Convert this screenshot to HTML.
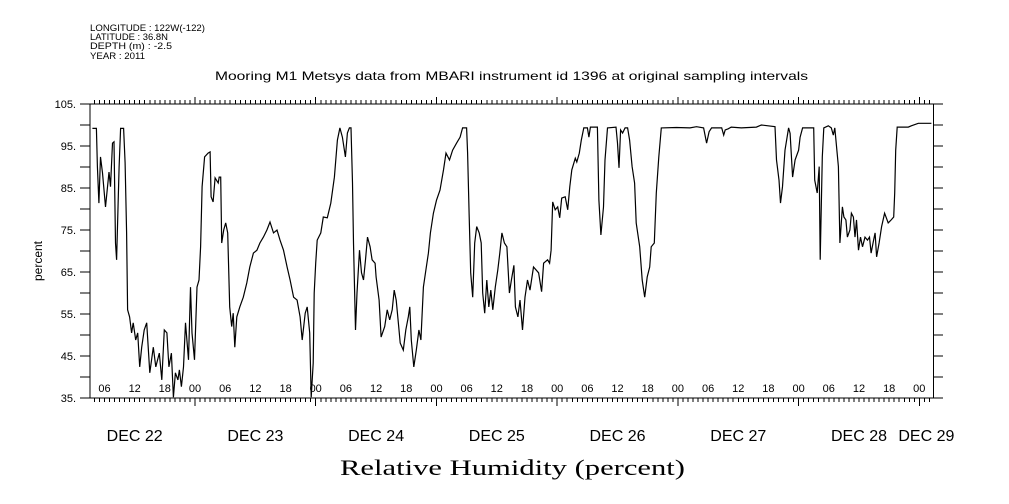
<!DOCTYPE html>
<html><head><meta charset="utf-8"><style>
html,body{margin:0;padding:0;background:#fff;}
svg{display:block;font-family:"Liberation Sans",sans-serif;}
</style></head><body>
<svg id="chart" width="1009" height="504" viewBox="0 0 1009 504">
<rect width="1009" height="504" fill="#fff"/>
<g font-size="9" fill="#000">
<text x="90" y="31" textLength="115" lengthAdjust="spacingAndGlyphs">LONGITUDE : 122W(-122)</text>
<text x="90" y="40" textLength="78" lengthAdjust="spacingAndGlyphs">LATITUDE : 36.8N</text>
<text x="90" y="49" textLength="82" lengthAdjust="spacingAndGlyphs">DEPTH (m) : -2.5</text>
<text x="90" y="59" textLength="55" lengthAdjust="spacingAndGlyphs">YEAR : 2011</text>
</g>
<text x="215" y="80" font-size="12" textLength="593" lengthAdjust="spacingAndGlyphs">Mooring M1 Metsys data from MBARI instrument id 1396 at original sampling intervals</text>
<text transform="translate(42,261) rotate(-90)" text-anchor="middle" font-size="12">percent</text>
<text x="340" y="475" font-family="'Liberation Serif',serif" font-size="22" textLength="345" lengthAdjust="spacingAndGlyphs">Relative Humidity (percent)</text>
<g id="axes"></g>
<g id="plot"></g>
</svg>
<script>
const hours=[3.6,4.4,4.6,4.9,5.2,5.6,6.2,6.9,7.2,7.6,7.9,8.2,8.4,8.9,9.2,9.8,10.1,10.4,10.6,11,11.4,11.7,12.2,12.6,13,13.4,13.9,14.4,15,15.7,16.2,16.9,17.4,17.9,18.4,18.8,19.3,19.7,20.1,20.6,20.9,21.3,21.7,22.1,22.7,23.1,23.4,23.9,24.4,24.8,25.1,25.4,25.9,26.6,27,27.2,27.6,28,28.6,28.8,29.1,29.3,29.7,30.1,30.5,30.9,31.3,31.6,31.9,32.3,32.9,33.6,34.3,34.9,35.6,36.3,36.9,37.6,38.3,38.9,39.6,40.3,40.9,41.6,42.3,42.9,43.6,44.3,44.9,45.3,45.9,46.3,46.8,47.1,47.5,47.7,48,48.3,49,49.5,50.3,51,51.7,52.3,52.8,53.3,53.9,54.3,54.7,55,55.3,55.5,55.9,56.2,56.7,57.1,57.5,57.9,58.3,58.8,59.2,59.8,60.0,60.6,61.0,61.7,62.2,62.7,63.2,63.6,64.0,64.5,64.8,65.4,65.9,66.4,66.7,67.0,67.5,68.0,68.5,68.9,69.4,69.9,70.4,70.8,71.4,72.0,72.7,73.4,73.9,74.6,75.2,76.0,76.7,77.2,78.0,78.2,78.5,78.8,79.2,79.6,80.0,80.5,80.9,81.2,81.6,82.0,82.4,82.8,83.2,83.7,84.2,84.6,85.0,85.5,86.0,86.5,86.9,87.4,87.7,88.2,88.6,89.1,89.6,90.1,90.6,91.3,92.3,92.9,93.3,94.1,94.5,94.8,95.1,95.6,96.1,96.5,96.9,97.6,98.1,98.5,98.9,99.6,99.9,100.4,100.8,101.3,102.0,102.3,102.6,104.0,104.3,104.7,105.2,105.5,106.0,107.7,108.0,108.3,108.6,109.0,109.5,110.0,110.4,110.9,111.4,111.7,112.4,112.9,113.4,113.9,114.4,114.7,115.3,115.7,116.2,116.7,119.7,122.4,123.7,125.1,125.7,126.2,126.7,128.7,129.1,129.4,130.0,130.6,132.6,135.6,136.6,139.3,139.6,140.1,140.4,140.8,141.3,142.0,142.3,142.8,143.3,144.0,144.3,144.8,147.0,147.2,147.7,148.1,148.3,148.7,149.0,149.9,150.5,150.9,151.2,151.9,152.2,152.7,153.0,153.4,153.7,154.2,154.5,154.9,155.2,155.5,155.9,156.3,156.7,157.2,157.7,158.1,158.4,158.9,159.2,159.5,160.0,160.5,161.1,161.8,162.4,162.9,163.1,163.3,163.6,165.8,166.4,167.8,170.4];
const humidity=[99.2,99.2,90.1,81.4,92.4,88.6,80.5,88.8,85.3,95.7,96,71.9,67.9,90,99.2,99.2,91,74.3,56,54.3,50.5,52.9,48.8,50.5,42.4,47.1,51.2,52.9,41,47.1,42.4,45.7,39.3,51.2,50.5,42.4,45.7,35.2,41,39.3,41.7,37.7,42.4,52.9,44.1,61.4,50.5,44.1,61.4,63.1,71,85.3,92.4,93.3,93.6,82.9,81.7,87.4,86.2,87.6,87.6,71.9,75,76.7,74.3,56.7,52,55.2,47.1,54.3,56.7,59,62.4,66.2,69.5,70.2,71.9,73.3,75,76.9,74.3,75,72.6,70.2,66.2,63.1,59,58.3,54.3,48.8,55.2,56.7,50.5,35.2,43.3,60,67.1,72.6,74.3,78.1,77.9,81.4,87.6,96.4,99.3,97.1,92.4,98.1,99.3,99.3,86.2,71.9,51.2,60,70.2,64.8,63.1,67.9,73.3,71,67.9,67.1,63.8,58.3,49.5,52,56,53.6,56,60.7,58.3,52,48.1,46.4,51.2,54.3,56.7,48.8,42.4,46.4,51.2,48.8,61.4,65.5,69.5,74.3,79,82.1,84.5,89.3,93.3,91.7,94,95.7,97.1,99.3,99.3,93.3,78.1,64.8,59,71.9,75.8,74.3,71.9,60,55.2,63.1,56.7,60.7,56,61.4,65.5,69.5,74.3,71.9,71,60,63.1,66.6,56.7,54.3,58.3,51.2,59,63.1,60.7,66.2,64.8,60.3,67.1,67.9,67.1,70.2,81.7,79.8,80.5,77.9,82.6,82.9,79.8,85.3,89.3,92.1,91.2,93.3,96.4,99.3,99.3,97.1,99.5,99.5,82.1,73.8,80.5,91.7,99.3,99.5,95.7,89.8,98.8,98.1,99.3,99.3,96.4,90.1,86.2,76.7,71,63.1,59,63.8,66.2,71,71.9,83.8,92.4,99.3,99.4,99.3,99.6,99.3,95.7,98.4,99.3,99.3,97.6,98.8,99.1,99.5,99.3,99.5,100,99.6,91.7,86.9,81.4,85.3,94,99.3,98,87.6,91.7,94,97.1,99.3,99.3,86.9,83.8,90.1,67.9,92.4,99.3,99.8,99.3,97.6,99.3,90.1,71.9,80.5,78.1,77.4,73.3,75,79,78.1,73.3,77.4,70.2,73.3,71,73.3,72.6,73.3,69.5,72.6,74.3,68.6,71.9,75.8,79,76.7,77.4,78.1,83.8,94,99.5,99.5,99.8,100.4,100.4];
const yTickValues=[35,40,45,50,55,60,65,70,75,80,85,90,95,100,105];
const yTickLabels=["35.","45.","55.","65.","75.","85.","95.","105."];
const hourTickLabels=["06","12","18","00"];
const dateLabels=["DEC 22","DEC 23","DEC 24","DEC 25","DEC 26","DEC 27","DEC 28","DEC 29"];
const dateLabelHours=[12,36,60,84,108,132,156,169.4];

const NS="http://www.w3.org/2000/svg";
const X0=74.3, PXH=5.03, LEFT=90, RIGHT=933.3, TOP=104, BOT=398, YMIN=35, YMAX=105;
const xs=h=>X0+h*PXH;
const ys=v=>BOT-(v-YMIN)/(YMAX-YMIN)*(BOT-TOP);
function mk(tag,attrs,parent){const e=document.createElementNS(NS,tag);for(const k in attrs)e.setAttribute(k,attrs[k]);parent.appendChild(e);return e;}
const axes=document.getElementById('axes'), plot=document.getElementById('plot');
const hMin=(LEFT-X0)/PXH, hMax=(RIGHT-X0)/PXH;
let d='';
// frame lines
d+=`M80 ${TOP}H943M80 ${BOT}H943M${LEFT} ${TOP}V${BOT}M${RIGHT} ${TOP}V${BOT}`;
// hourly ticks
for(let h=Math.ceil(hMin);h<=hMax;h++){const x=xs(h).toFixed(1);const major=h%24===0;d+=`M${x} ${TOP}V${TOP-(major?7:4)}M${x} ${BOT}V${BOT+(major?8:4)}`;}
// y ticks
yTickValues.forEach(v=>{const y=ys(v).toFixed(1);d+=`M80 ${y}H${LEFT}M${RIGHT} ${y}H943`;});
const tp=mk('path',{d:d,stroke:'#000','stroke-width':1,fill:'none','shape-rendering':'crispEdges'},axes);


yTickLabels.forEach((lab,i)=>{const v=35+i*10;const t=mk('text',{x:76,y:(ys(v)+4).toFixed(1),'text-anchor':'end','font-size':11},axes);t.textContent=lab;

});
for(let h=6;h<=hMax;h+=6){const t=mk('text',{x:xs(h).toFixed(1),y:392,'text-anchor':'middle','font-size':11},axes);t.textContent=hourTickLabels[(h/6-1)%4];

}
dateLabels.forEach((lab,i)=>{const t=mk('text',{x:xs(dateLabelHours[i]).toFixed(1),y:441,'text-anchor':'middle','font-size':16},axes);t.textContent=lab;

});
let pd='';
hours.forEach((h,i)=>{pd+=(i?'L':'M')+xs(h).toFixed(1)+' '+ys(humidity[i]).toFixed(1);});
const line=mk('path',{d:pd,stroke:'#000','stroke-width':1.2,fill:'none','stroke-linejoin':'miter'},plot);


</script>
</body></html>
